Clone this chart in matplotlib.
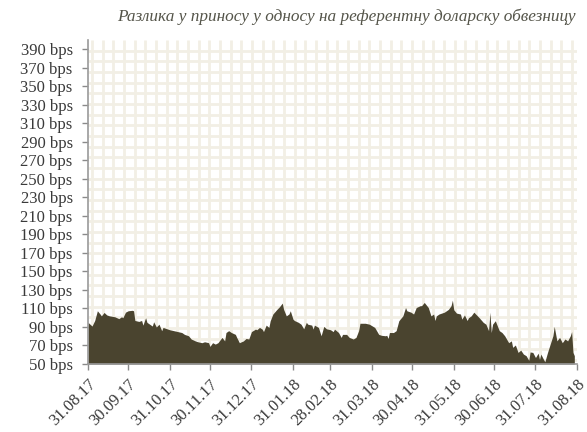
import matplotlib
matplotlib.use("Agg")
import matplotlib.pyplot as plt
import pandas as pd
import numpy as np

title = "Разлика у приносу у односу на референтну доларску обвезницу"

dates = [
    "2017-08-31", "2017-09-03", "2017-09-05", "2017-09-07", "2017-09-09", "2017-09-10",
    "2017-09-12", "2017-09-14", "2017-09-16", "2017-09-20", "2017-09-23", "2017-09-25",
    "2017-09-26", "2017-09-28", "2017-09-30", "2017-10-03", "2017-10-04", "2017-10-05",
    "2017-10-08", "2017-10-10", "2017-10-11", "2017-10-13", "2017-10-14", "2017-10-16",
    "2017-10-18", "2017-10-19", "2017-10-21", "2017-10-23", "2017-10-25", "2017-10-26",
    "2017-10-29", "2017-10-31", "2017-11-03", "2017-11-06", "2017-11-09", "2017-11-11",
    "2017-11-14", "2017-11-16", "2017-11-19", "2017-11-21", "2017-11-24", "2017-11-26",
    "2017-11-29", "2017-11-30", "2017-12-02", "2017-12-04", "2017-12-06", "2017-12-09",
    "2017-12-11", "2017-12-12", "2017-12-14", "2017-12-16", "2017-12-19", "2017-12-20",
    "2017-12-22", "2017-12-25", "2017-12-27", "2017-12-29", "2017-12-31", "2018-01-03",
    "2018-01-04", "2018-01-06", "2018-01-08", "2018-01-09", "2018-01-11", "2018-01-13",
    "2018-01-14", "2018-01-16", "2018-01-19", "2018-01-21", "2018-01-23", "2018-01-24",
    "2018-01-26", "2018-01-28", "2018-01-29", "2018-01-31", "2018-02-01", "2018-02-04",
    "2018-02-06", "2018-02-08", "2018-02-10", "2018-02-11", "2018-02-14", "2018-02-15",
    "2018-02-16", "2018-02-19", "2018-02-21", "2018-02-23", "2018-02-25", "2018-02-28",
    "2018-03-02", "2018-03-03", "2018-03-06", "2018-03-08", "2018-03-09", "2018-03-12",
    "2018-03-14", "2018-03-17", "2018-03-19", "2018-03-21", "2018-03-22", "2018-03-26",
    "2018-03-29", "2018-04-02", "2018-04-05", "2018-04-07", "2018-04-10", "2018-04-11",
    "2018-04-12", "2018-04-13", "2018-04-16", "2018-04-18", "2018-04-20", "2018-04-23",
    "2018-04-25", "2018-04-26", "2018-04-29", "2018-05-01", "2018-05-03", "2018-05-06",
    "2018-05-07", "2018-05-09", "2018-05-12", "2018-05-14", "2018-05-16", "2018-05-17",
    "2018-05-18", "2018-05-20", "2018-05-22", "2018-05-24", "2018-05-27", "2018-05-29",
    "2018-05-30", "2018-05-31", "2018-06-02", "2018-06-05", "2018-06-06", "2018-06-08",
    "2018-06-10", "2018-06-11", "2018-06-13", "2018-06-15", "2018-06-17", "2018-06-19",
    "2018-06-22", "2018-06-24", "2018-06-26", "2018-06-27", "2018-06-28", "2018-06-29",
    "2018-07-01", "2018-07-03", "2018-07-04", "2018-07-06", "2018-07-08", "2018-07-11",
    "2018-07-13", "2018-07-14", "2018-07-16", "2018-07-18", "2018-07-20", "2018-07-22",
    "2018-07-24", "2018-07-26", "2018-07-27", "2018-07-29", "2018-07-31", "2018-08-02",
    "2018-08-03", "2018-08-04", "2018-08-06", "2018-08-07", "2018-08-09", "2018-08-11",
    "2018-08-13", "2018-08-14", "2018-08-16", "2018-08-18", "2018-08-20", "2018-08-22",
    "2018-08-24", "2018-08-26", "2018-08-27", "2018-08-28", "2018-08-29",
]

spread_bps = [
    95, 91, 97, 107.5, 104, 102,
    105.7, 103, 102, 101, 99, 101,
    100, 106, 107.5, 108, 107.5, 97,
    96, 97, 92, 100, 95, 93,
    91, 95.6, 90, 93, 86, 89.5,
    88, 87, 86, 85, 84, 82,
    80.5, 77, 75, 74, 73, 74,
    73, 69, 73, 71.5, 73, 78.7,
    75, 84, 86, 84, 82, 78.7,
    73, 75, 77.6, 77, 85, 87.7,
    87, 89.5, 87.7, 85, 92, 89.5,
    96.7, 104, 109, 112, 115.8, 109,
    102, 104, 107.5, 98.5, 97, 95,
    93, 88, 95, 93, 92, 87.7,
    92, 89.5, 80.5, 90.6, 88, 87,
    85, 87.7, 84, 78.7, 82, 82,
    78.7, 77, 78.7, 86, 94, 94,
    93, 89.5, 82, 81, 80.5, 81,
    77.6, 84, 84, 86, 96.7, 102,
    111, 107.5, 106, 104, 111, 113,
    113, 116.5, 111, 102, 104, 97,
    102, 104, 105, 106, 109, 113,
    119, 108.6, 105, 104, 98.5, 103,
    97, 100, 102, 106, 103, 100,
    95, 93, 86, 106, 84, 93,
    96.7, 89.5, 86, 84, 80.5, 73,
    75, 68, 70.5, 62.5, 65, 60.7,
    59, 54, 63, 62.5, 57, 61.7,
    55, 60.7, 55, 52.4, 62.5, 71.5,
    80.5, 90.6, 75, 78.7, 73, 77,
    75, 80.5, 85, 62.5, 59,
]

tick_dates = ["2017-08-31", "2017-09-30", "2017-10-31", "2017-11-30", "2017-12-31",
              "2018-01-31", "2018-02-28", "2018-03-31", "2018-04-30", "2018-05-31",
              "2018-06-30", "2018-07-31", "2018-08-31"]
tick_labels = ["31.08.17", "30.09.17", "31.10.17", "30.11.17", "31.12.17", "31.01.18",
               "28.02.18", "31.03.18", "30.04.18", "31.05.18", "30.06.18", "31.07.18",
               "31.08.18"]
y_ticks = list(range(50, 391, 20))
y_labels = [f"{v} bps" for v in y_ticks]

plt.rcParams['font.family'] = ['Liberation Serif', 'DejaVu Serif']

W, H = 587, 432
fig = plt.figure(figsize=(W / 100, H / 100), dpi=100)
ax = fig.add_axes([88 / W, 1 - 364 / H, (577 - 88) / W, (364 - 40) / H])

x = pd.to_datetime(dates)
xt = pd.to_datetime(tick_dates)

ax.set_xlim(xt[0], xt[-1])
ax.set_ylim(50, 400)

# background checkered pattern (decoration, axes-fraction positions)
ax_w = 577 - 88
ax_h = 364 - 40
step = 10.67
grid_c = "#f2efe5"
xf = np.arange(4, ax_w, step) / ax_w
yf = np.arange(4, ax_h, step) / ax_h
for f in xf:
    ax.plot([f, f], [0, 1], transform=ax.transAxes, color=grid_c, lw=2.0, zorder=0,
            solid_capstyle='butt')
for f in yf:
    ax.plot([0, 1], [f, f], transform=ax.transAxes, color=grid_c, lw=2.0, zorder=0,
            solid_capstyle='butt')

ax.fill_between(x, 50, spread_bps, color="#4a442f", lw=0, zorder=2)

ax.set_yticks(y_ticks)
ax.set_yticklabels(y_labels)
ax.set_xticks(xt)
ax.set_xticklabels(tick_labels, rotation=45, ha='right', va='top', rotation_mode='anchor')

for lab in ax.get_yticklabels() + ax.get_xticklabels():
    lab.set_fontsize(12)
    lab.set_color("#3a3a3a")

ax.tick_params(axis='both', length=4, width=1, color="#8a8a8a")
ax.tick_params(axis='y', pad=7)
ax.tick_params(axis='x', pad=5)
for s in ["top", "right"]:
    ax.spines[s].set_visible(False)
for s in ["left", "bottom"]:
    ax.spines[s].set_color("#9a9a9a")
    ax.spines[s].set_linewidth(1.2)
    ax.spines[s].set_zorder(3)

fig.text(576 / W, 1 - 17 / H, title, ha='right', va='center', fontsize=12.4,
         style='italic', color="#55554a")

fig.savefig("out.png", dpi=100)
